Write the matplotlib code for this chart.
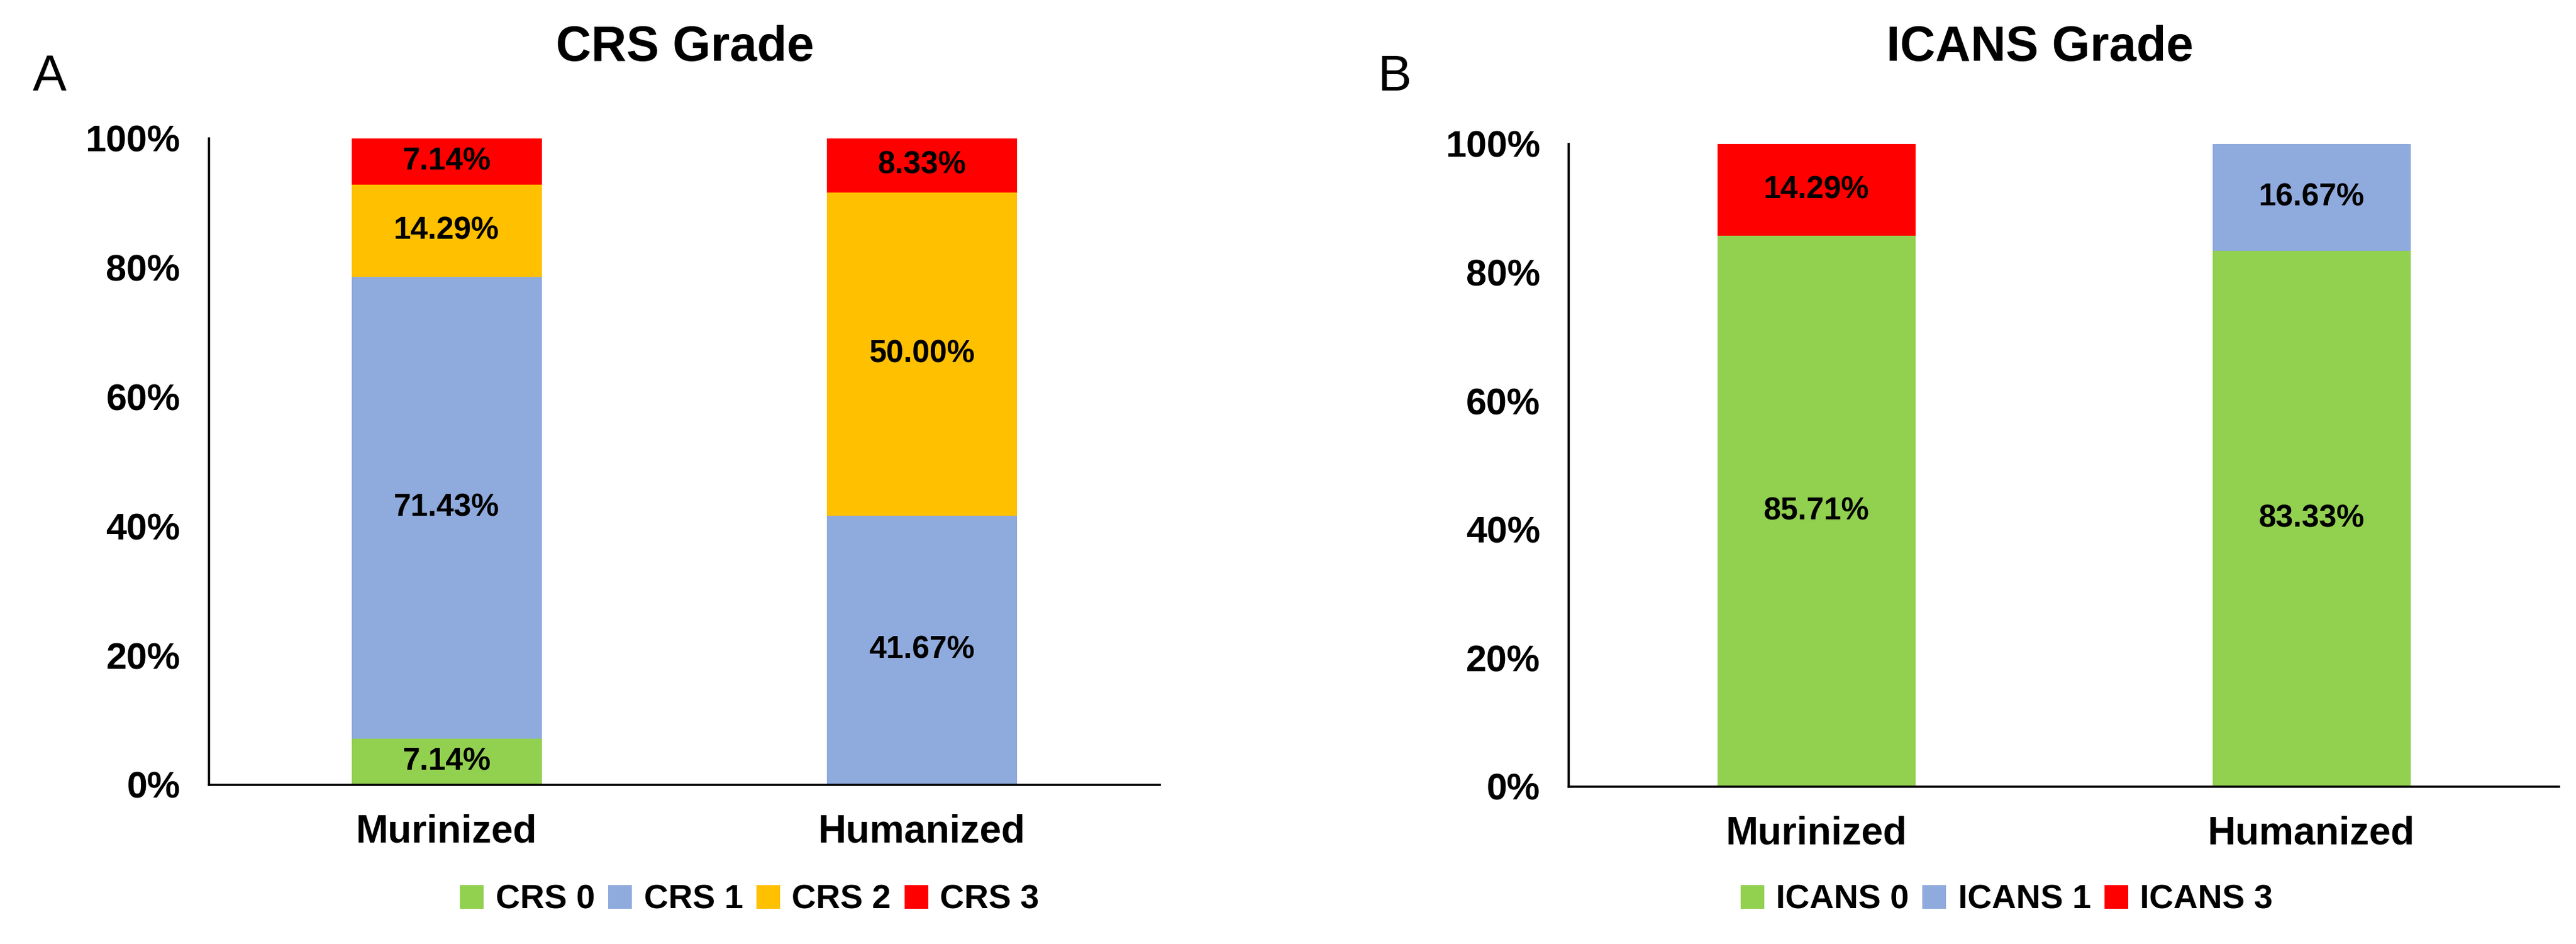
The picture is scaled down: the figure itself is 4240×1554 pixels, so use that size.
import matplotlib
matplotlib.use("Agg")
import matplotlib.pyplot as plt
import numpy as np

plt.rcParams['font.family'] = ['Liberation Sans', 'DejaVu Sans']

groups = ["Murinized", "Humanized"]

crs_labels = ["CRS 0", "CRS 1", "CRS 2", "CRS 3"]
crs_values = [
    [7.14, 0.0],     # CRS 0
    [71.43, 41.67],  # CRS 1
    [14.29, 50.00],  # CRS 2
    [7.14, 8.33],    # CRS 3
]
crs_colors = ["#92D050", "#8FAADC", "#FFC000", "#FF0000"]

icans_labels = ["ICANS 0", "ICANS 1", "ICANS 3"]
icans_values = [
    [85.71, 83.33],  # ICANS 0
    [0.0, 16.67],    # ICANS 1
    [14.29, 0.0],    # ICANS 3
]
icans_colors = ["#92D050", "#8FAADC", "#FF0000"]

W, H, DPI = 4240, 1554, 200
fig = plt.figure(figsize=(W / DPI, H / DPI), dpi=DPI)


def stacked(ax, labels, values, colors):
    x = np.arange(len(groups))
    bottom = np.zeros(len(groups))
    handles = []
    for lab, vals, col in zip(labels, values, colors):
        vals = np.array(vals) / 100.0
        bars = ax.bar(x, vals, width=0.4, bottom=bottom, color=col, label=lab)
        handles.append(bars)
        for xi, b, v in zip(x, bottom, vals):
            if v > 0:
                ax.text(xi, b + v / 2, f"{v * 100:.2f}%", ha="center", va="center",
                        fontsize=18.5, fontweight="bold", color="black")
        bottom += vals
    ax.set_xlim(-0.5, 1.5)
    ax.set_ylim(0, 1)
    ax.set_yticks(np.linspace(0, 1, 6))
    ax.set_yticklabels([f"{int(t)}%" for t in np.linspace(0, 100, 6)],
                       fontsize=22, fontweight="bold")
    ax.set_xticks(x)
    ax.set_xticklabels(groups, fontsize=23, fontweight="bold")
    ax.tick_params(axis="y", length=0, pad=17)
    ax.tick_params(axis="x", length=0, pad=17)
    for s in ["top", "right"]:
        ax.spines[s].set_visible(False)
    for s in ["left", "bottom"]:
        ax.spines[s].set_linewidth(1.3)
    return handles


ax1 = fig.add_axes([0.0811, 0.1686, 0.3691, 0.6847])
h1 = stacked(ax1, crs_labels, crs_values, crs_colors)
ax2 = fig.add_axes([0.6090, 0.1667, 0.3844, 0.6808])
h2 = stacked(ax2, icans_labels, icans_values, icans_colors)

fig.text(0.266, 0.949, "CRS Grade", ha="center", va="center", fontsize=29, fontweight="bold")
fig.text(0.792, 0.949, "ICANS Grade", ha="center", va="center", fontsize=29, fontweight="bold")
fig.text(0.0127, 0.918, "A", ha="left", va="center", fontsize=30)
fig.text(0.5347, 0.918, "B", ha="left", va="center", fontsize=30)

leg_kw = dict(loc="center", ncol=4, frameon=False, handlelength=0.7,
              handleheight=0.7, handletextpad=0.35, columnspacing=0.4, borderpad=0,
              prop={"size": 20, "weight": "bold"})
fig.legend(handles=h1, labels=crs_labels, bbox_to_anchor=(0.291, 0.0466), **leg_kw)
fig.legend(handles=h2, labels=icans_labels, bbox_to_anchor=(0.779, 0.0466), **leg_kw)

fig.savefig("out.png", dpi=DPI)
